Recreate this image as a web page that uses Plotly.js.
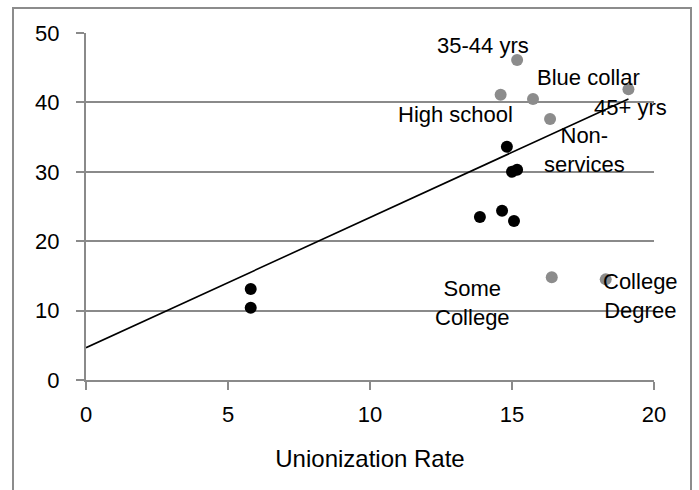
<!DOCTYPE html>
<html>
<head>
<meta charset="utf-8">
<script src="https://cdn.plot.ly/plotly-3.0.1.min.js"></script>
<style>
  html, body { margin: 0; padding: 0; background: #fff; }
  #wrap { position: relative; width: 699px; height: 490px; overflow: hidden; }
  #chart { position: absolute; left: 0; top: 0; width: 699px; height: 490px; }
  #frame { position: absolute; left: 12px; top: 7px; width: 680px; height: 500px;
           border: 2px solid #8c8c8c; pointer-events: none; box-sizing: border-box; }
</style>
</head>
<body>
<div id="wrap">
  <div id="chart"></div>
  <div id="frame"></div>
</div>
<script>
// Black points (unlabelled)
const blackX = [5.8, 5.8, 13.87, 14.65, 15.07, 14.82, 15.0, 15.18];
const blackY = [13.1, 10.4, 23.5, 24.4, 22.9, 33.6, 30.0, 30.3];

// Gray labelled points
const grayLabels = ["35-44 yrs", "High school", "Blue collar", "45+ yrs", "Non-<br>services", "Some<br>College", "College<br>Degree"];
const grayX = [15.18, 14.6, 15.74, 19.1, 16.34, 16.4, 18.3];
const grayY = [46.1, 41.1, 40.5, 41.9, 37.6, 14.8, 14.5];

// Linear trend line endpoints
const trendX = [0, 19.1];
const trendY = [4.65, 40.5];

// Axis ticks
const xTicks = [0, 5, 10, 15, 20];
const yTicks = [0, 10, 20, 30, 40, 50];

// Label offsets (layout only, pixels)
const labelShiftX = [-34, -45, 55, 2, 34, -79, 35];
const labelShiftY = [15, -20, 21, -18, -31, -26, -17];

const FONT = "Liberation Sans, Arial, sans-serif";
const GRID = "#8a8a8a";

const traces = [
  { x: grayX, y: grayY, type: "scatter", mode: "markers",
    marker: { color: "#8c8c8c", size: 12 }, hoverinfo: "skip" },
  { x: blackX, y: blackY, type: "scatter", mode: "markers",
    marker: { color: "#000000", size: 12 }, hoverinfo: "skip" },
  { x: trendX, y: trendY, type: "scatter", mode: "lines",
    line: { color: "#000000", width: 1.6 }, hoverinfo: "skip" }
];

const annotations = grayLabels.map((t, i) => ({
  x: grayX[i], y: grayY[i], xref: "x", yref: "y",
  text: t, showarrow: false, xanchor: "center", yanchor: "middle",
  xshift: labelShiftX[i], yshift: labelShiftY[i],
  font: { family: FONT, size: 22, color: "#000" }, align: "center"
}));

const layout = {
  width: 699, height: 490,
  margin: { l: 86, r: 45, t: 33, b: 110, pad: 0 },
  paper_bgcolor: "rgba(0,0,0,0)", plot_bgcolor: "rgba(0,0,0,0)",
  showlegend: false,
  font: { family: FONT, size: 22, color: "#000" },
  xaxis: {
    range: [0, 20], tickvals: xTicks, ticktext: xTicks.map(String),
    showgrid: false, zeroline: false,
    showline: true, linecolor: GRID, linewidth: 2,
    ticks: "outside", ticklen: 8, tickcolor: GRID, tickwidth: 2,
    tickfont: { family: FONT, size: 22, color: "#000" },
    ticklabelstandoff: 6,
    title: { text: "Unionization Rate", font: { family: FONT, size: 24, color: "#000" }, standoff: 24 },
    fixedrange: true
  },
  yaxis: {
    range: [0, 50], tickvals: yTicks, ticktext: yTicks.map(String),
    showgrid: true, gridcolor: GRID, gridwidth: 2, zeroline: false,
    showline: true, linecolor: GRID, linewidth: 2,
    ticks: "outside", ticklen: 8, tickcolor: GRID, tickwidth: 2,
    tickfont: { family: FONT, size: 22, color: "#000" },
    ticklabelstandoff: 12,
    fixedrange: true
  },
  annotations: annotations
};

Plotly.newPlot("chart", traces, layout, { displayModeBar: false, staticPlot: true });
</script>
</body>
</html>
